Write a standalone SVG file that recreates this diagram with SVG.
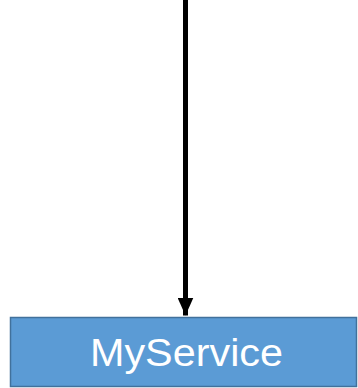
<svg xmlns="http://www.w3.org/2000/svg" width="358" height="388" viewBox="0 0 358 388">
<style>
.box{fill:#5b9bd5;stroke:#41719c;stroke-width:1.5}
.lbl{font-family:"Liberation Sans","Open Sans",sans-serif;font-size:39px;fill:#ffffff}
.conn{stroke:#000;stroke-width:5;fill:none}
</style>
<defs>
<marker id="ah" markerUnits="userSpaceOnUse" markerWidth="19" markerHeight="16" refX="18" refY="8" orient="auto">
<path d="M0,0 L18,8 L0,16 Z" fill="#000"/>
</marker>
</defs>
<g id="connectors">
<line class="conn" x1="185.5" y1="0" x2="185.5" y2="315.5" marker-end="url(#ah)"/>
</g>
<g id="myservice">
<rect class="box" x="10.5" y="317.5" width="346" height="69"/>
<text class="lbl" x="186.5" y="366" text-anchor="middle" textLength="193" lengthAdjust="spacingAndGlyphs">MyService</text>
</g>
</svg>
